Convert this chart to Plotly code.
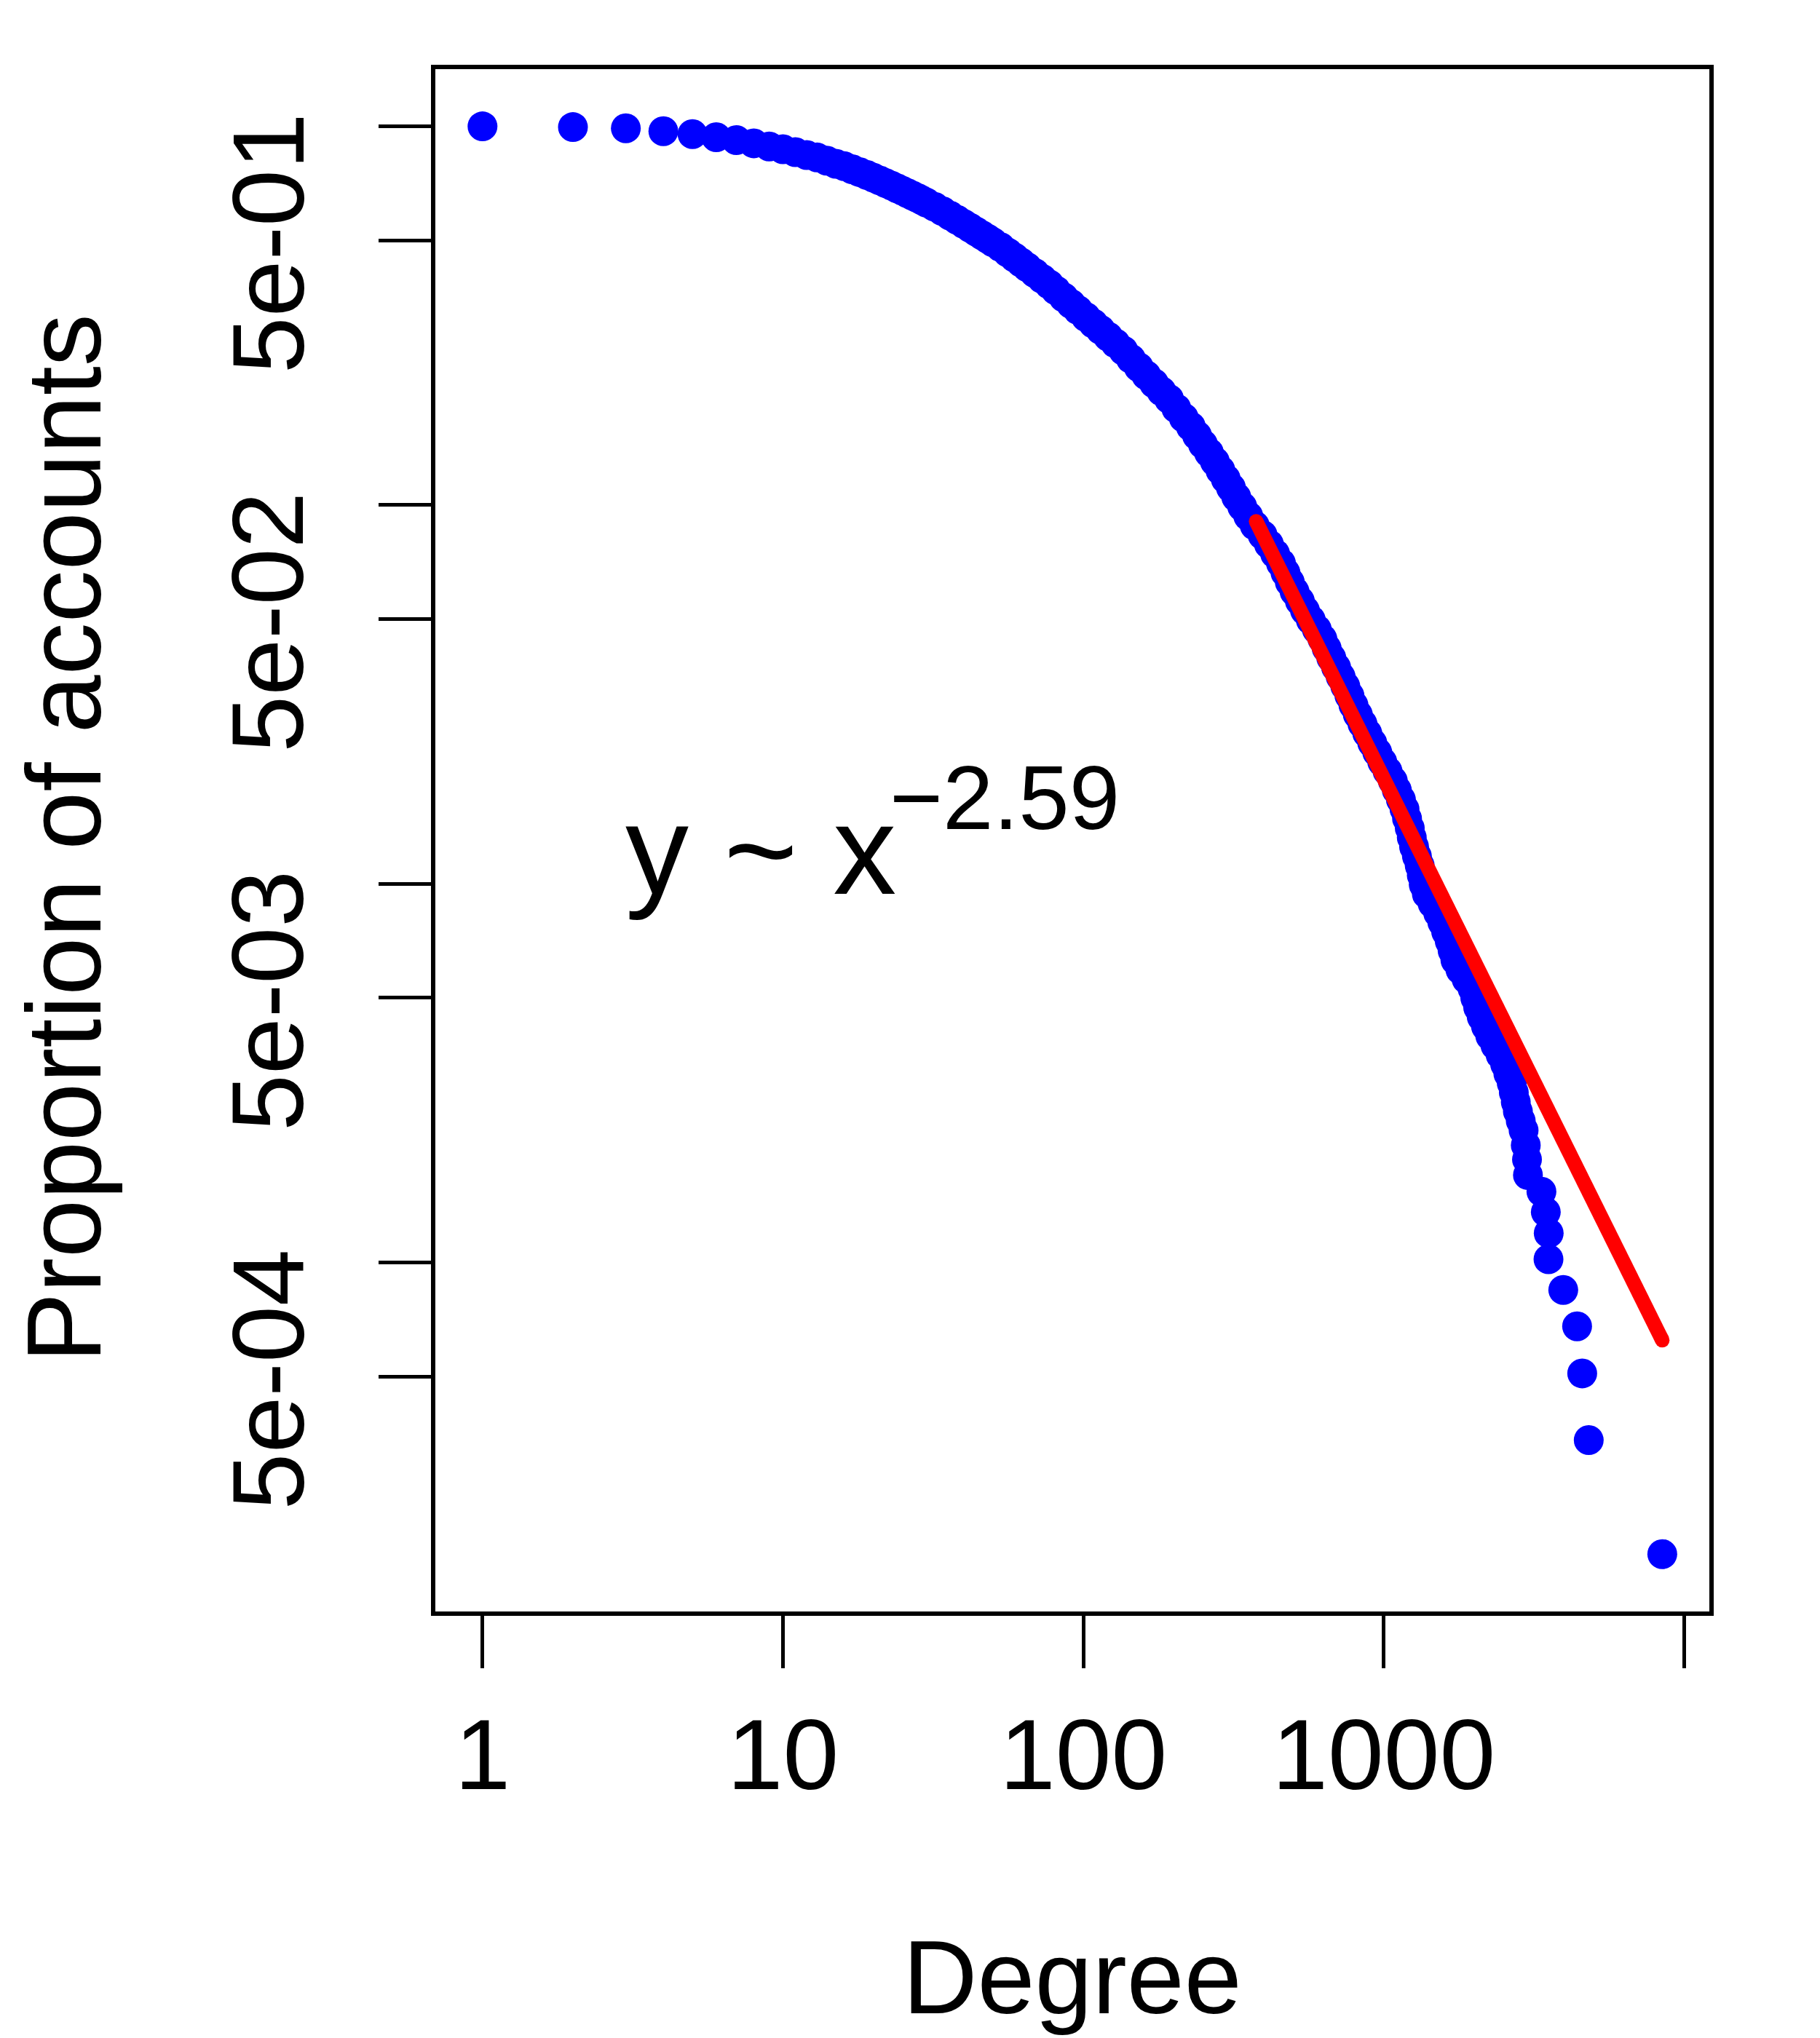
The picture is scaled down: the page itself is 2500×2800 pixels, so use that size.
import math
import plotly.graph_objects as go

# ---- data (CCDF of account degree) ----
degree = [1, 2, 3, 4, 5, 6, 7, 8, 9, 10,
          11, 12, 13, 14, 15, 16, 17, 18, 19, 20,
          21, 22, 23, 24, 25, 26, 27, 28, 29, 30,
          32, 34, 36, 38, 40, 42, 44, 46, 48, 50,
          53, 56, 59, 62, 65, 69, 73, 77, 81, 86,
          91, 96, 102, 108, 114, 121, 128, 136, 144, 153,
          162, 172, 182, 193,
          204, 216, 228, 239, 250, 262, 274, 286, 298, 310,
          323, 338, 354, 372, 395, 415, 435, 455, 471, 487,
          505, 526, 547, 572, 599, 625, 646, 669, 694, 719,
          745, 769, 793, 820, 850, 882, 916, 952, 989, 1030,
          1072, 1106, 1141, 1173, 1196, 1221, 1240, 1262, 1290, 1318,
          1339, 1359, 1392, 1454, 1518, 1568, 1614, 1659, 1696, 1733,
          1800, 1887, 1975, 2018, 2063, 2120, 2190, 2263, 2354, 2449,
          2536, 2600, 2668, 2711, 2752, 2797, 2859, 2922, 2971, 2999,
          3021, 3350, 3464, 3542, 3536, 3960, 4403, 4579, 4814, 8459]

proportion = [1.0, 0.9956, 0.9881, 0.9708, 0.9538, 0.9359, 0.9195, 0.902, 0.8848, 0.870,
              0.8549, 0.8400, 0.8275, 0.8116, 0.7964, 0.7848, 0.7704, 0.7572, 0.7446, 0.7319,
              0.7197, 0.7080, 0.6972, 0.6862, 0.6759, 0.6659, 0.6565, 0.6473, 0.6382, 0.6292,
              0.6130, 0.5970, 0.5811, 0.5664, 0.5526, 0.5395, 0.5273, 0.5158, 0.5049, 0.4945,
              0.4801, 0.4645, 0.4505, 0.4373, 0.4249, 0.4096, 0.3956, 0.3827, 0.3691, 0.3537,
              0.3398, 0.3274, 0.3138, 0.3017, 0.2905, 0.2784, 0.2674, 0.2557, 0.2434, 0.2312,
              0.2203, 0.2096, 0.1999, 0.1905,
              0.1800, 0.1700, 0.1612, 0.1528, 0.1449, 0.1375, 0.1304, 0.1236, 0.1172, 0.1112,
              0.1050, 0.09912, 0.09359, 0.08837, 0.08344, 0.07878, 0.07438, 0.07022, 0.06630, 0.06260,
              0.05910, 0.05580, 0.05269, 0.04974, 0.04697, 0.04434, 0.04186, 0.03953, 0.03732, 0.03523,
              0.03326, 0.03141, 0.02966, 0.02800, 0.02644, 0.02496, 0.02356, 0.02225, 0.02100, 0.01983,
              0.01872, 0.01768, 0.01669, 0.01575, 0.01487, 0.01404, 0.01326, 0.01253, 0.01183, 0.01117,
              0.01054, 0.009956, 0.009400, 0.008877, 0.008380, 0.007913, 0.007471, 0.007053, 0.006659, 0.006287,
              0.005936, 0.005605, 0.005292, 0.004996, 0.004717, 0.004454, 0.004205, 0.003970, 0.003748, 0.003539,
              0.003341, 0.003155, 0.002979, 0.002813, 0.002655, 0.002507, 0.002367, 0.002235, 0.002042, 0.001872,
              0.001703, 0.001540, 0.001360, 0.001196, 0.001021, 0.000847, 0.000679, 0.000510, 0.000340, 0.000170]

# fitted power law (drawn as a straight line on log-log axes)
fit_degree = [376, 8459]
fit_proportion = [0.0906, 0.000624]

x_tick_vals = [1, 10, 100, 1000, 10000]
x_tick_text = ["1", "10", "100", "1000", ""]
y_tick_vals = [1, 0.5, 0.1, 0.05, 0.01, 0.005, 0.001, 0.0005]
y_label_vals = [0.5, 0.05, 0.005, 0.0005]
y_label_text = ["5e-01", "5e-02", "5e-03", "5e-04"]

FONT = "Liberation Sans, Arial, Helvetica, sans-serif"

fig = go.Figure()
fig.add_trace(go.Scatter(
    x=degree, y=proportion, mode="markers",
    marker=dict(color="#0000FF", size=41, line=dict(width=0)),
    showlegend=False, hoverinfo="skip"))
fig.add_trace(go.Scatter(
    x=fit_degree, y=fit_proportion, mode="lines+markers",
    line=dict(color="#FF0000", width=20),
    marker=dict(color="#FF0000", size=20, line=dict(width=0)),
    showlegend=False, hoverinfo="skip"))

axis_common = dict(
    showgrid=False, zeroline=False,
    showline=True, linecolor="black", linewidth=6, mirror=True,
    ticks="outside", ticklen=72, tickwidth=4.5, tickcolor="black",
    tickfont=dict(family=FONT, size=138, color="black"),
)

annotations = [
    dict(text="Degree", xref="paper", yref="paper", x=0.5, y=-0.2371,
         xanchor="center", yanchor="middle", showarrow=False,
         font=dict(family=FONT, size=142, color="black")),
    dict(text="Proportion of accounts", xref="paper", yref="paper",
         x=-0.2908, y=0.5012, xanchor="center", yanchor="middle",
         textangle=-90, showarrow=False,
         font=dict(family=FONT, size=144, color="black")),
    dict(text="y ~ x", xref="paper", yref="paper", x=0.1480, y=0.4941,
         xanchor="left", yanchor="middle", showarrow=False,
         font=dict(family=FONT, size=174, color="black")),
    dict(text="\u22122.59", xref="paper", yref="paper", x=0.3555, y=0.5279,
         xanchor="left", yanchor="middle", showarrow=False,
         font=dict(family=FONT, size=125, color="black")),
]
# rotated y tick labels (R style: parallel to the axis)
for v, t in zip(y_label_vals, y_label_text):
    annotations.append(dict(
        text=t, xref="paper", yref="y", x=-0.1314, y=math.log10(v), yshift=-4,
        xanchor="center", yanchor="middle", textangle=-90, showarrow=False,
        font=dict(family=FONT, size=140, color="black")))

fig.update_layout(
    width=2500, height=2800,
    paper_bgcolor="white", plot_bgcolor="white",
    margin=dict(l=590, r=160, t=87, b=594, autoexpand=False),
    xaxis=dict(type="log", range=[-0.157, 4.084],
               tickmode="array", tickvals=x_tick_vals, ticktext=x_tick_text,
               **axis_common),
    yaxis=dict(type="log", range=[-3.921, 0.151],
               tickmode="array", tickvals=y_tick_vals,
               ticktext=[""] * len(y_tick_vals), **axis_common),
    annotations=annotations,
)

fig.write_html("out.html")
